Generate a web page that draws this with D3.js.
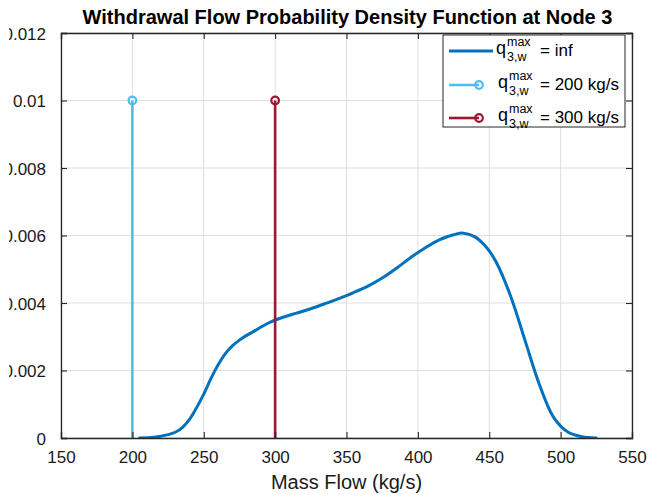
<!DOCTYPE html>
<html>
<head>
<meta charset="utf-8">
<script src="https://cdn.jsdelivr.net/npm/d3@7"></script>
<style>
  html, body { margin: 0; padding: 0; background: #fff; }
  svg { display: block; font-family: "Liberation Sans", Arial, Helvetica, sans-serif; }
</style>
</head>
<body>
<svg id="chart" width="665" height="495"></svg>
<script>
// ---- data ----
const flowX = [205, 215, 225, 230, 235, 240, 245, 250, 255, 260, 265, 270, 275, 280, 285, 295, 305, 315, 325, 335, 345, 355, 365, 375, 385, 395, 405, 415, 425, 432, 440, 448, 455, 465, 475, 485, 495, 505, 515, 525];
const densityInf = [0, 0.00002, 0.0001, 0.00017, 0.00031, 0.00055, 0.0009, 0.0013, 0.00176, 0.00216, 0.00249, 0.00273, 0.0029, 0.00304, 0.00316, 0.0034, 0.00357, 0.0037, 0.00383, 0.00398, 0.00414, 0.00431, 0.0045, 0.00474, 0.00503, 0.00535, 0.00563, 0.00587, 0.00602, 0.00607, 0.00596, 0.00565, 0.0052, 0.0042, 0.0029, 0.0016, 0.00062, 0.00018, 0.00004, 0];
const stemX = [200, 300];
const stemY = [0.01, 0.01];
const xTicks = [150, 200, 250, 300, 350, 400, 450, 500, 550];
const yTicks = [0, 0.002, 0.004, 0.006, 0.008, 0.01, 0.012];
const yTickLabels = ["0", "0.002", "0.004", "0.006", "0.008", "0.01", "0.012"];
const legendValues = ["inf", "200 kg/s", "300 kg/s"];
const titleText = "Withdrawal Flow Probability Density Function at Node 3";
const xLabelText = "Mass Flow (kg/s)";

// ---- styles ----
const colInf = "#0072BD";
const colStem = ["#4DBEEE", "#A2142F"];
const axisCol = "#262626";
const gridCol = "#dfdfdf";

const L = 61, R = 632, T = 33, B = 438;
const svg = d3.select("#chart");
const x = d3.scaleLinear().domain([150, 550]).range([L, R]);
const y = d3.scaleLinear().domain([0, 0.012]).range([B, T]);

const defs = svg.append("defs");
defs.append("clipPath").attr("id", "ylabclip")
  .append("rect").attr("x", 9).attr("y", 0).attr("width", 60).attr("height", 495);
defs.append("clipPath").attr("id", "plotclip")
  .append("rect").attr("x", L).attr("y", T).attr("width", R - L).attr("height", B - T);

// grid
const grid = svg.append("g");
grid.selectAll("line.gx").data(xTicks).join("line")
  .attr("x1", d => x(d)).attr("x2", d => x(d)).attr("y1", T).attr("y2", B)
  .attr("stroke", gridCol).attr("stroke-width", 1);
grid.selectAll("line.gy").data(yTicks).join("line")
  .attr("y1", d => y(d)).attr("y2", d => y(d)).attr("x1", L).attr("x2", R)
  .attr("stroke", gridCol).attr("stroke-width", 1);

// axes (ticks inside)
const tickLen = 6;
const xAxisB = d3.axisBottom(x).tickValues(xTicks).tickSize(-tickLen).tickPadding(tickLen + 7).tickFormat(d3.format("d"));
const xAxisT = d3.axisTop(x).tickValues(xTicks).tickSize(-tickLen).tickFormat("");
const yAxisL = d3.axisLeft(y).tickValues(yTicks).tickSize(-tickLen).tickPadding(tickLen + 9).tickFormat((d, i) => yTickLabels[i]);
const yAxisR = d3.axisRight(y).tickValues(yTicks).tickSize(-tickLen).tickFormat("");

function styleAxis(g) {
  g.select(".domain").attr("stroke", axisCol).attr("stroke-width", 1.3);
  g.selectAll(".tick line").attr("stroke", axisCol).attr("stroke-width", 1.1);
  g.selectAll(".tick text").attr("fill", "#1a1a1a").style("font-size", "17px")
    .style("font-family", "'Liberation Sans', Arial, sans-serif");
}

// data lines
const plot = svg.append("g").attr("clip-path", "url(#plotclip)");
const line = d3.line().x((d, i) => x(flowX[i])).y(d => y(d)).curve(d3.curveCatmullRom.alpha(0.5));
plot.append("path").datum(densityInf).attr("d", line)
  .attr("fill", "none").attr("stroke", colInf).attr("stroke-width", 3)
  .attr("stroke-linejoin", "round").attr("stroke-linecap", "round");

stemX.forEach((sx, i) => {
  plot.append("line").attr("x1", x(sx)).attr("x2", x(sx)).attr("y1", y(0)).attr("y2", y(stemY[i]))
    .attr("stroke", colStem[i]).attr("stroke-width", 2.6);
});
stemX.forEach((sx, i) => {
  svg.append("circle").attr("cx", x(sx)).attr("cy", y(stemY[i])).attr("r", 3.8)
    .attr("fill", "none").attr("stroke", colStem[i]).attr("stroke-width", 2.2);
});

svg.append("g").attr("transform", `translate(0,${B})`).call(xAxisB).call(styleAxis)
  .selectAll(".tick text").attr("dy", "0.71em");
svg.append("g").attr("transform", `translate(0,${T})`).call(xAxisT).call(styleAxis);
const gyl = svg.append("g").attr("transform", `translate(${L},0)`).call(yAxisL).call(styleAxis);
const ylabWrap = svg.append("g").attr("clip-path", "url(#ylabclip)");
gyl.selectAll(".tick text").each(function () {
  const tr = d3.select(this.parentNode).attr("transform");
  const txt = d3.select(this);
  ylabWrap.append("text")
    .attr("transform", `translate(${L},0) ${tr}`)
    .attr("x", txt.attr("x")).attr("dy", "0.36em")
    .attr("text-anchor", "end").attr("fill", "#1a1a1a")
    .style("font-size", "17px").text(txt.text());
  txt.remove();
});
svg.append("g").attr("transform", `translate(${R},0)`).call(yAxisR).call(styleAxis);

// title & label
svg.append("text").attr("x", (L + R) / 2 + 1).attr("y", 24).attr("text-anchor", "middle")
  .style("font-size", "20px").style("font-weight", "bold").attr("fill", "#000").text(titleText);
svg.append("text").attr("x", (L + R) / 2).attr("y", 489).attr("text-anchor", "middle")
  .style("font-size", "20px").attr("fill", "#1a1a1a").text(xLabelText);

// legend
const lg = svg.append("g");
const lgX = 443, lgY = 35, lgW = 182, lgH = 92;
lg.append("rect").attr("x", lgX).attr("y", lgY).attr("width", lgW).attr("height", lgH)
  .attr("fill", "#fff").attr("stroke", axisCol).attr("stroke-width", 1);
const rowY = [51, 85, 118];
const legCols = [colInf, colStem[0], colStem[1]];
legendValues.forEach((v, i) => {
  const ry = rowY[i];
  if (i === 0) {
    lg.append("line").attr("x1", 449).attr("x2", 493).attr("y1", ry).attr("y2", ry)
      .attr("stroke", legCols[i]).attr("stroke-width", 3);
  } else {
    lg.append("line").attr("x1", 449).attr("x2", 479).attr("y1", ry).attr("y2", ry)
      .attr("stroke", legCols[i]).attr("stroke-width", 2.6);
    lg.append("circle").attr("cx", 479).attr("cy", ry).attr("r", 3.8)
      .attr("fill", "none").attr("stroke", legCols[i]).attr("stroke-width", 2.2);
  }
  const tx = i === 0 ? 496 : 498;
  lg.append("text").attr("x", tx).attr("y", ry + 3).style("font-size", "18px").attr("fill", "#000").text("q");
  lg.append("text").attr("x", tx + 11).attr("y", ry - 5).style("font-size", "12.5px").attr("fill", "#000").text("max");
  lg.append("text").attr("x", tx + 11).attr("y", ry + 10).style("font-size", "12.5px").attr("fill", "#000").text("3,w");
  lg.append("text").attr("x", 540).attr("y", ry + 5).style("font-size", "17px").attr("fill", "#000").text("= " + v);
});
</script>
</body>
</html>
